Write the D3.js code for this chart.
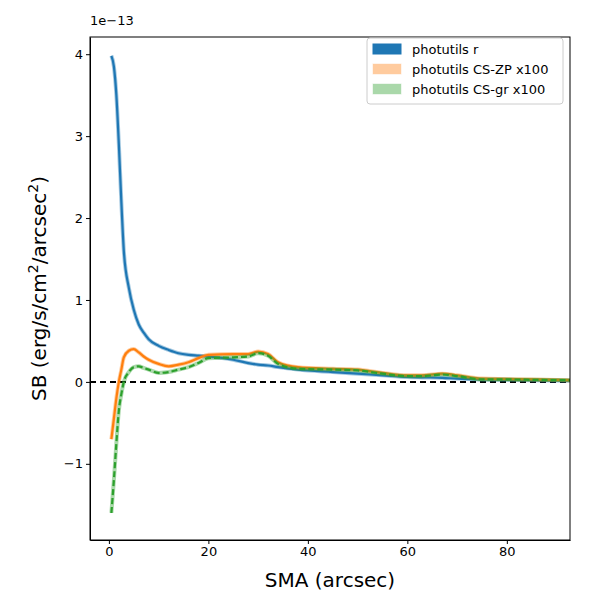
<!DOCTYPE html>
<html><head><meta charset="utf-8">
<script src="https://cdn.jsdelivr.net/npm/d3@7"></script>
<style>body{margin:0;background:#fff}text{font-family:"DejaVu Sans",sans-serif}</style>
</head><body><svg id="c" width="600" height="600"></svg>
<script>
// values in units of 1e-13
var sma = [0.5,1,1.5,2,2.5,3,4,5,6,7,8,10,12,14,16,18,20,25,28,30,32,34,38,45,50,55,60,63,67,70,75,80,85,93];
var sbR = [3.98,3.85,3.5,2.9,2.2,1.6,1.15,0.88,0.7,0.6,0.52,0.44,0.39,0.35,0.33,0.32,0.31,0.27,0.23,0.21,0.2,0.18,0.15,0.12,0.1,0.08,0.06,0.055,0.05,0.04,0.03,0.025,0.02,0.015];
var sbZP = [-0.7,-0.45,-0.2,0.0,0.15,0.3,0.38,0.4,0.36,0.31,0.27,0.22,0.19,0.21,0.24,0.29,0.33,0.34,0.34,0.37,0.34,0.24,0.18,0.16,0.15,0.11,0.08,0.08,0.1,0.08,0.04,0.035,0.03,0.02];
var sbGR = [-1.6,-1.2,-0.75,-0.35,-0.15,0.0,0.12,0.18,0.19,0.17,0.15,0.11,0.12,0.15,0.18,0.23,0.29,0.3,0.31,0.35,0.32,0.22,0.16,0.15,0.14,0.1,0.07,0.07,0.09,0.07,0.03,0.03,0.025,0.02];
var names = ["photutils r","photutils CS-ZP x100","photutils CS-gr x100"];
var colors = ["#1f77b4","#ff7f0e","#2ca02c"];
var yTicks = [-1,0,1,2,3,4];
var xTicks = [0,20,40,60,80];

var svg = d3.select("#c");
var m = {l:90,r:570,t:37,b:540};
var x = d3.scaleLinear().domain([-3.8,92.7]).range([m.l,m.r]);
var y = d3.scaleLinear().domain([-1.93,4.21]).range([m.b,m.t]);

svg.append("clipPath").attr("id","clip").append("rect")
  .attr("x",m.l).attr("y",m.t).attr("width",m.r-m.l).attr("height",m.b-m.t);
var g = svg.append("g").attr("clip-path","url(#clip)");

g.append("line").attr("x1",m.l).attr("x2",m.r).attr("y1",y(0)).attr("y2",y(0))
  .attr("stroke","#000").attr("stroke-width",2).attr("stroke-dasharray","6,4");

var series = [sbR,sbZP,sbGR];
var line = d3.line().curve(d3.curveMonotoneX).x(function(d){return x(d[0]);}).y(function(d){return y(d[1]);});
series.forEach(function(vals,i){
  var pts = sma.map(function(s,j){return [s,vals[j]];});
  g.append("path").attr("d",line(pts)).attr("fill","none").attr("stroke",colors[i])
    .attr("stroke-width",4).attr("opacity",0.4);
  g.append("path").attr("d",line(pts)).attr("fill","none").attr("stroke",colors[i])
    .attr("stroke-width",2.2).attr("stroke-dasharray",i==2?"6,3":null);
});

svg.append("g").attr("transform","translate(0,"+m.b+")")
  .call(d3.axisBottom(x).tickValues(xTicks).tickSize(4).tickSizeOuter(0))
  .call(function(a){a.selectAll("text").attr("font-size",13).attr("fill","#000");});
svg.append("g").attr("transform","translate("+m.l+",0)")
  .call(d3.axisLeft(y).tickValues(yTicks).tickFormat(function(d){return d<0?"\u2212"+(-d):d;}).tickSize(4).tickSizeOuter(0))
  .call(function(a){a.selectAll("text").attr("font-size",13).attr("fill","#000");});
svg.append("rect").attr("x",m.l).attr("y",m.t).attr("width",m.r-m.l).attr("height",m.b-m.t)
  .attr("fill","none").attr("stroke","#000");

svg.append("text").attr("x",m.l).attr("y",m.t-12).attr("font-size",13).text("1e\u221213");
svg.append("text").attr("x",(m.l+m.r)/2).attr("y",587).attr("text-anchor","middle")
  .attr("font-size",20).text("SMA (arcsec)");
var yl = svg.append("text").attr("transform","translate(46,"+((m.t+m.b)/2)+") rotate(-90)")
  .attr("text-anchor","middle").attr("font-size",20);
yl.append("tspan").text("SB (erg/s/cm");
yl.append("tspan").attr("font-size",14).attr("dy",-8).text("2");
yl.append("tspan").attr("dy",8).text("/arcsec");
yl.append("tspan").attr("font-size",14).attr("dy",-8).text("2");
yl.append("tspan").attr("dy",8).text(")");

var lg = svg.append("g").attr("transform","translate(367,38)");
lg.append("rect").attr("width",196).attr("height",66).attr("rx",3).attr("fill","#fff")
  .attr("stroke","#ccc");
names.forEach(function(n,i){
  lg.append("rect").attr("x",6).attr("y",6+i*20).attr("width",28).attr("height",10)
    .attr("fill",colors[i]).attr("opacity",i==0?1:0.4).attr("stroke",colors[i]).attr("stroke-opacity",i==0?1:0.4);
  lg.append("text").attr("x",45).attr("y",16+i*20).attr("font-size",13).text(n);
});
</script></body></html>
